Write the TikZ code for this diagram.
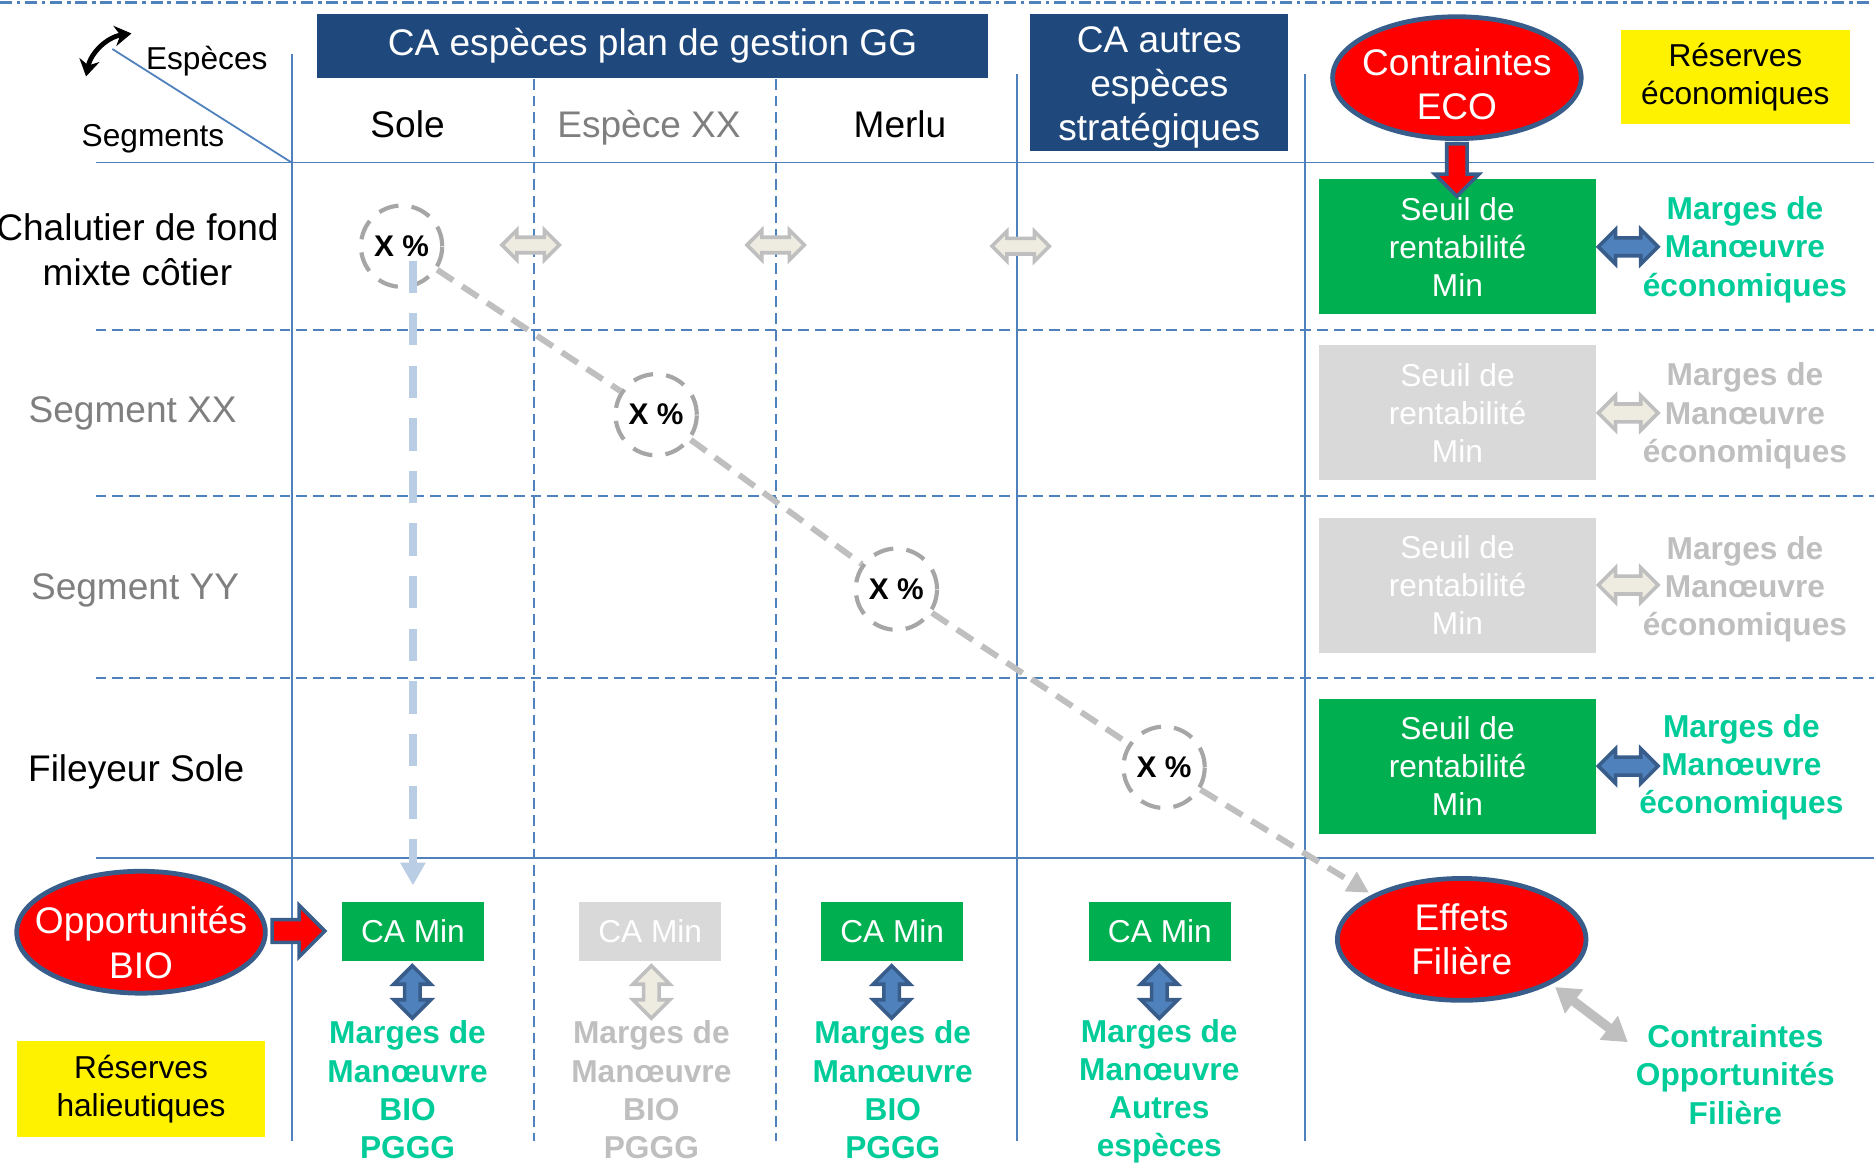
\documentclass[tikz,border=0pt]{standalone}
\usepackage{fontspec}
\setmainfont{Liberation Sans}
\usetikzlibrary{arrows.meta,shapes.geometric,shapes.arrows,positioning}
\tikzset{
  big/.style={font=\fontsize{31}{37}\selectfont, align=center},
  mid/.style={font=\fontsize{26.5}{32}\selectfont, align=center},
  gridline/.style={draw=gridblue, line width=1.5pt},
  hdrbox/.style={big, fill=hdrblue, text=white, inner sep=0pt},
  redoval/.style={big, ellipse, fill=red, draw=rimblue, line width=4pt, text=white, inner xsep=-20pt, inner ysep=0pt, minimum width=208, minimum height=102},
  redarr/.style={single arrow, fill=red, draw=rimblue, line width=3pt},
  seuil/.style={mid, fill=boxgreen, text=white, minimum width=231, minimum height=113, inner sep=0pt},
  seuiloff/.style={seuil, fill=boxgray},
  camin/.style={mid, fill=boxgreen, text=white, minimum width=119, minimum height=49, inner sep=0pt},
  caminoff/.style={camin, fill=boxgray},
  reserve/.style={mid, fill=yellow, inner sep=0pt},
  marge/.style={font=\fontsize{26.5}{32}\selectfont\bfseries, align=center, text=margin},
  margeoff/.style={marge, text=faded},
  ring/.style={circle, draw=ringgray, line width=3.5pt, dash pattern=on 17pt off 11pt, minimum size=68, inner sep=0pt, font=\fontsize{25}{30}\selectfont\bfseries},
  xline/.style={draw=faded, line width=5pt, dash pattern=on 16pt off 9pt},
  bioline/.style={draw=paleblue, line width=7pt, dash pattern=on 27pt off 17pt},
  hdbl/.style={double arrow, line width=3pt, inner sep=6pt, double arrow head extend=7pt, minimum height=50},
  smalldbl/.style={double arrow, line width=3pt, inner sep=5pt, double arrow head extend=6pt, minimum height=48},
  vdbl/.style={double arrow, rotate=90, line width=3pt, inner sep=5pt, double arrow head extend=9pt, minimum height=44},
  bluedbl/.style={fill=gridblue, draw=rimblue},
  graydbl/.style={fill=ivory, draw=faded}
}
\begin{document}
\begin{tikzpicture}[x=1pt,y=-1pt]
\definecolor{hdrblue}{HTML}{1F497D}
\definecolor{gridblue}{HTML}{4F81BD}
\definecolor{rimblue}{HTML}{385D8A}
\definecolor{boxgreen}{HTML}{00B050}
\definecolor{boxgray}{HTML}{D9D9D9}
\definecolor{margin}{HTML}{00CC99}
\definecolor{faded}{HTML}{BFBFBF}
\definecolor{midgray}{HTML}{7F7F7F}
\definecolor{ivory}{HTML}{EEECE1}
\definecolor{paleblue}{HTML}{B9CDE5}
\definecolor{ringgray}{HTML}{A6A6A6}
\useasboundingbox (0,0) rectangle (1568,976);
\draw[gridline, line width=2pt, dash pattern=on 10pt off 4pt on 3pt off 4pt] (0,2) -- (1568,2);
\draw[gridline] (80,136) -- (1568,136);
\draw[gridline] (80,718) -- (1568,718);
\foreach \y in {276,415,567}
  \draw[gridline, dash pattern=on 9pt off 5pt] (80,\y) -- (1568,\y);
\draw[gridline] (244,45) -- (244,955);
\draw[gridline] (851,62) -- (851,955);
\draw[gridline] (1092,62) -- (1092,955);
\foreach \x in {447,649}
  \draw[gridline, dash pattern=on 9pt off 5pt] (\x,66) -- (\x,955);
\draw[gridline] (94,41) -- (244,136);
\coordinate (turnA) at (72,64);
\coordinate (turnB) at (110,28);
\draw[line width=4pt, {Stealth[length=14pt,width=17pt]}-{Stealth[length=14pt,width=17pt]}] (turnA) to[bend left=35] (turnB);
\node[mid] (esp) at (173,51) {Espèces};
\node[mid] (seg) at (128,116) {Segments};
\node[hdrbox, minimum width=562, minimum height=53] (ggbox) at (546,38.5) {CA espèces plan de gestion GG};
\node[hdrbox, minimum width=216, minimum height=114, text height=104pt] (autbox) at (970,69) {CA autres\\espèces\\stratégiques};
\node[big] (sole) at (341,104) {Sole};
\node[big, text=midgray] (espxx) at (543,107) {Espèce XX};
\node[big] (merlu) at (753,104) {Merlu};
\node[big] (chal) at (115,209) {Chalutier de fond\\mixte côtier};
\node[big, text=midgray] (segxx) at (111,346) {Segment XX};
\node[big, text=midgray] (segyy) at (113,494) {Segment YY};
\node[big] (filey) at (114,646) {Fileyeur Sole};
\node[ring] (x1) at (336,206) {X \%};
\node[ring] (x2) at (549,347) {X \%};
\node[ring] (x3) at (750,493) {X \%};
\node[ring] (x4) at (974,642) {X \%};
\node[smalldbl, graydbl] (g1) at (444,205) {};
\node[smalldbl, graydbl] (g2) at (649,205) {};
\node[smalldbl, graydbl] (g3) at (854,206) {};
\node[seuil] (seuil1) at (1219.5,206.5) {Seuil de\\rentabilité\\Min};
\node[seuiloff] (seuil2) at (1219.5,345.5) {Seuil de\\rentabilité\\Min};
\node[seuiloff] (seuil3) at (1219.5,489.5) {Seuil de\\rentabilité\\Min};
\node[seuil] (seuil4) at (1219.5,641) {Seuil de\\rentabilité\\Min};
\node[hdbl, bluedbl, right=0pt of seuil1] (dbl1) {};
\node[hdbl, graydbl, right=0pt of seuil2] (dbl2) {};
\node[hdbl, graydbl, right=0pt of seuil3] (dbl3) {};
\node[hdbl, bluedbl, right=0pt of seuil4] (dbl4) {};
\node[marge] (eco1) at (1460,209) {Marges de\\Manœuvre\\économiques};
\node[margeoff] (eco2) at (1460,348) {Marges de\\Manœuvre\\économiques};
\node[margeoff] (eco3) at (1460,493) {Marges de\\Manœuvre\\économiques};
\node[marge] (eco4) at (1457,642) {Marges de\\Manœuvre\\économiques};
\node[redoval, text height=70.5pt] (contr) at (1219,65) {Contraintes\\ECO};
\node[redarr, rotate=-90, inner sep=7pt, single arrow head extend=10pt, minimum height=44] (ecoarr) at (1219,138) {};
\node[reserve, minimum width=192, minimum height=79] (reseco) at (1452,64.5) {Réserves\\économiques};
\node[redoval, text height=77pt, inner ysep=-5pt] (oppbio) at (118,780) {Opportunités\\BIO};
\node[redarr, inner sep=8pt, single arrow head extend=12pt, minimum height=44] (bioarr) at (245,779) {};
\node[reserve, minimum width=208, minimum height=80] (reshal) at (118,911) {Réserves\\halieutiques};
\node[camin] (camin1) at (345.5,779.5) {CA Min};
\node[caminoff] (camin2) at (544,779.5) {CA Min};
\node[camin] (camin3) at (746.5,779.5) {CA Min};
\node[camin] (camin4) at (970.5,779.5) {CA Min};
\node[vdbl, bluedbl] (vd1) at (345,830) {};
\node[vdbl, graydbl] (vd2) at (545,830) {};
\node[vdbl, bluedbl] (vd3) at (746,830) {};
\node[vdbl, bluedbl] (vd4) at (970,830) {};
\node[marge] (bio1) at (341,912) {Marges de\\Manœuvre\\BIO\\PGGG};
\node[margeoff] (bio2) at (545,912) {Marges de\\Manœuvre\\BIO\\PGGG};
\node[marge] (bio3) at (747,912) {Marges de\\Manœuvre\\BIO\\PGGG};
\node[marge] (aut4) at (970,913) {Marges de\\Manœuvre\\Autres\\espèces};
\node[redoval] (effets) at (1223,786) {Effets\\Filière};
\node[marge] (filtxt) at (1452,899) {Contraintes\\Opportunités\\Filière};
\draw[xline] (x1) -- (x2);
\draw[xline] (x2) -- (x3);
\draw[xline] (x3) -- (x4);
\draw[xline, -{Triangle[length=18pt,width=18pt]}, shorten >=3pt] (x4) -- (effets.north west);
\draw[bioline, shorten <=12pt, -{Triangle[length=19pt,width=20pt]}] (x1.center -| camin1.north) -- ([yshift=14pt]camin1.north);
\coordinate (filtip) at (1362,872);
\draw[draw=faded, line width=8pt, shorten <=4pt, {Triangle[length=20pt,width=24pt]}-{Triangle[length=20pt,width=24pt]}] (effets.south east) -- (filtip);
\end{tikzpicture}
\end{document}
